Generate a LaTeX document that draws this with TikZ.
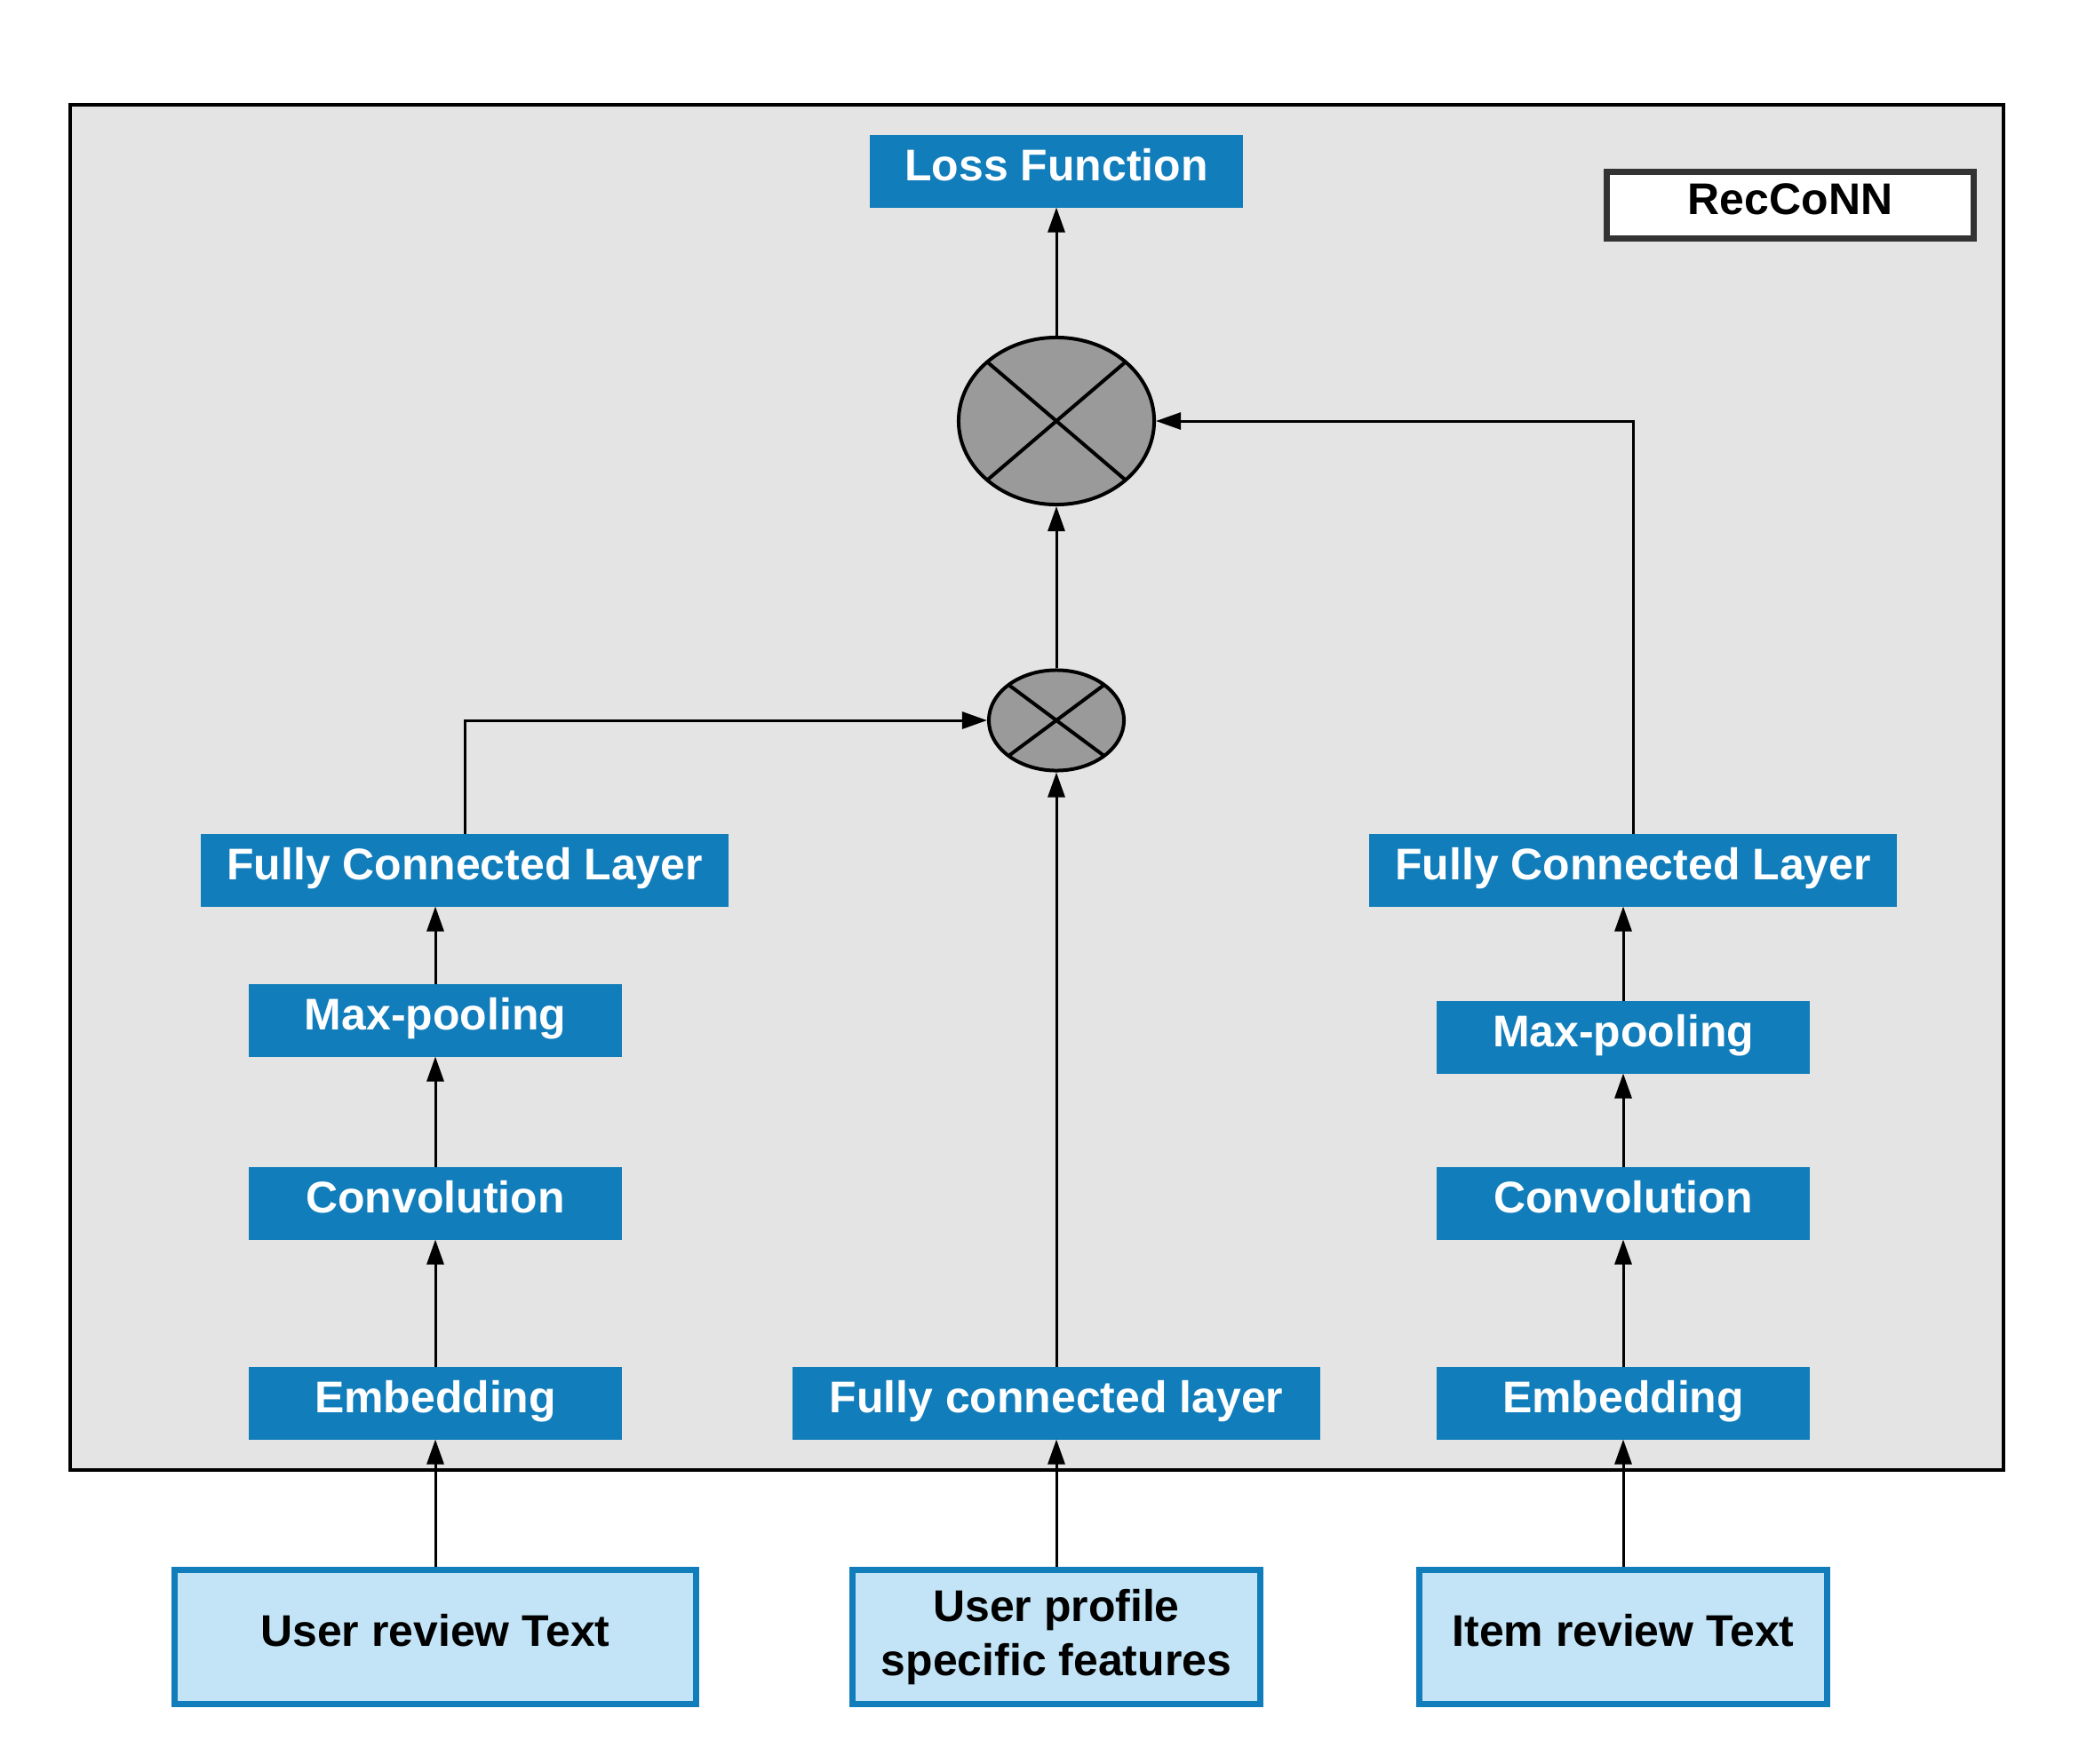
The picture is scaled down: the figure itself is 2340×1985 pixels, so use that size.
\documentclass[tikz,border=0pt]{standalone}
\usepackage{fontspec}
\setmainfont{Liberation Sans}
\usetikzlibrary{arrows.meta,shapes.geometric}
\definecolor{layerblue}{HTML}{117DBB}
\definecolor{inputblue}{HTML}{C2E4F6}
\definecolor{bggray}{HTML}{E4E4E4}
\definecolor{opgray}{HTML}{9A9A9A}
\definecolor{framegray}{HTML}{333333}

\tikzset{
	label font/.style={font=\bfseries\fontsize{14.2}{17.2}\selectfont},
	oneline/.style={text height=0.35cm, text depth=0.14cm},
	layer/.style={label font, oneline, fill=layerblue, text=white, inner sep=0pt, outer sep=0pt, minimum width=4.2cm, minimum height=0.81cm},
	wide/.style={minimum width=5.93cm},
	inputbox/.style={label font, draw=layerblue, line width=0.07cm, fill=inputblue, align=center, inner sep=0pt, minimum width=4.58cm, minimum height=1.5cm},
	mult/.style={ellipse, draw, line width=0.04cm, fill=opgray, inner sep=0pt,
		path picture={\draw[line width=0.04cm] (path picture bounding box.north west) -- (path picture bounding box.south east)
			(path picture bounding box.north east) -- (path picture bounding box.south west);}},
	arr/.style={-{Triangle[length=0.28cm,width=0.19cm]}, line width=0.03cm}
}

\begin{document}
\begin{tikzpicture}[x=0.01cm, y=-0.01cm]
	\useasboundingbox (0,0) rectangle (2340,1985);
	\draw[line width=0.04cm, fill=bggray] (79,118) rectangle (2255,1655);

	\node[layer] (loss) at (1189,193) {Loss Function};
	\node[label font, oneline, draw=framegray, line width=0.07cm, fill=white, inner sep=0pt, minimum width=4.13cm, minimum height=0.75cm] (model) at (2015,231) {RecCoNN};
	\node[mult, minimum width=2.2cm, minimum height=1.88cm] (mul2) at (1189,474) {};
	\node[mult, minimum width=1.52cm, minimum height=1.13cm] (mul1) at (1189,811) {};

	\node[layer, wide] (fcl1) at (523,980) {Fully Connected Layer};
	\node[layer] (mp1) at (490,1149) {Max-pooling};
	\node[layer] (conv1) at (490,1355) {Convolution};
	\node[layer] (emb1) at (490,1580) {Embedding};

	\node[layer, wide] (fcm) at (1189,1580) {Fully connected layer};

	\node[layer, wide] (fcl2) at (1838,980) {Fully Connected Layer};
	\node[layer] (mp2) at (1827,1168) {Max-pooling};
	\node[layer] (conv2) at (1827,1355) {Convolution};
	\node[layer] (emb2) at (1827,1580) {Embedding};

	\node[inputbox, oneline, minimum width=5.86cm] (in1) at (490,1843) {User review Text};
	\node[inputbox] (in2) at (1189,1843) {User profile\\specific features};
	\node[inputbox, oneline] (in3) at (1827,1843) {Item review Text};

	\draw[arr] (in1) -- (emb1);
	\draw[arr] (emb1) -- (conv1);
	\draw[arr] (conv1) -- (mp1);
	\draw[arr] (mp1.north) -- (mp1.north |- fcl1.south);
	\draw[arr] (fcl1.north) |- (mul1.west);

	\draw[arr] (in2) -- (fcm);
	\draw[arr] (fcm) -- (mul1);
	\draw[arr] (mul1) -- (mul2);
	\draw[arr] (mul2) -- (loss);

	\draw[arr] (in3) -- (emb2);
	\draw[arr] (emb2) -- (conv2);
	\draw[arr] (conv2) -- (mp2);
	\draw[arr] (mp2.north) -- (mp2.north |- fcl2.south);
	\draw[arr] (fcl2.north) |- (mul2.east);
\end{tikzpicture}
\end{document}
